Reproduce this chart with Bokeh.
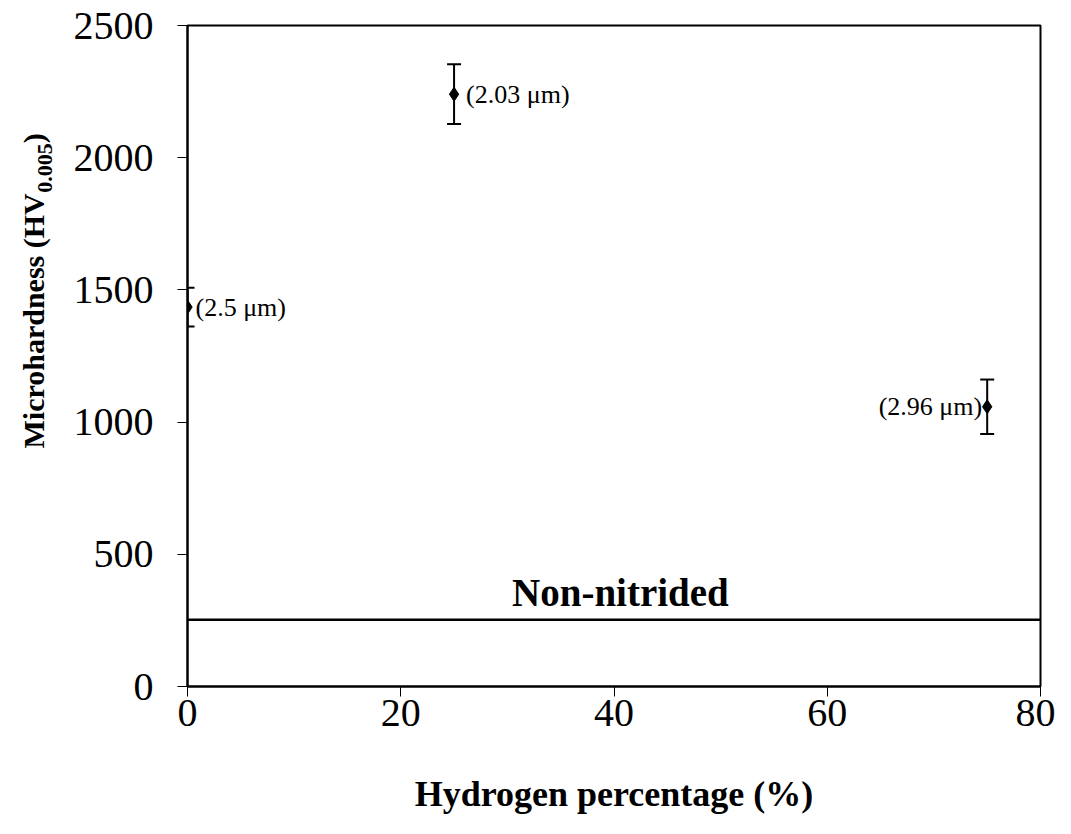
import math
from bokeh.plotting import figure
from bokeh.layouts import row
from bokeh.models import ColumnDataSource, Whisker, TeeHead, Span, Label, Range1d
from bokeh.core.properties import value
from bokeh.embed import file_html
from bokeh.resources import INLINE

# ---- data ----
hydrogen = [0, 25, 75]
hardness = [1435, 2240, 1058]
errors = [73, 113, 103]
thickness_labels = ["(2.5 μm)", "(2.03 μm)", "(2.96 μm)"]
label_align = ["left", "left", "right"]
label_offset = [8, 12, -5]
non_nitrided = 252
x_ticks = [0, 20, 40, 60, 80]
y_ticks = [0, 500, 1000, 1500, 2000, 2500]

FONT = "Liberation Serif"
H = 818
LW = 70            # width of the y-title strip
W = 1055 - LW
BOTTOM = 132
TOP = 25

src = ColumnDataSource(dict(
    x=hydrogen, y=hardness,
    upper=[h + e for h, e in zip(hardness, errors)],
    lower=[h - e for h, e in zip(hardness, errors)],
    txt=thickness_labels, align=label_align, xo=label_offset,
))

p = figure(width=W, height=H, output_backend="svg", toolbar_location=None,
           x_range=Range1d(0, 80), y_range=Range1d(0, 2500),
           min_border_left=186 - LW, min_border_right=15, min_border_top=TOP, min_border_bottom=BOTTOM)
p.background_fill_color = "white"
p.border_fill_color = "white"
p.outline_line_color = "black"
p.outline_line_width = 2
p.xgrid.visible = False
p.ygrid.visible = False

for ax in (p.xaxis[0], p.yaxis[0]):
    ax.axis_line_width = 2
    ax.axis_line_color = "black"
    ax.major_tick_out = 10
    ax.major_tick_in = 0
    ax.major_tick_line_width = 1
    ax.major_tick_line_color = "black"
    ax.minor_tick_line_color = None
    ax.major_label_text_font = FONT
    ax.major_label_text_font_size = "40px"
    ax.major_label_text_color = "black"

p.xaxis.ticker = x_ticks
p.yaxis.ticker = y_ticks
p.xaxis.major_label_standoff = 3
p.yaxis.major_label_standoff = 24

p.xaxis.axis_label = "Hydrogen percentage (%)"
p.xaxis.axis_label_text_font = FONT
p.xaxis.axis_label_text_font_style = "bold"
p.xaxis.axis_label_text_font_size = "36px"
p.xaxis.axis_label_text_color = "black"
p.xaxis.axis_label_standoff = 45

# non-nitrided reference line
p.add_layout(Span(location=non_nitrided, dimension="width", line_color="black", line_width=2.5))
p.text(x=[40.6], y=[non_nitrided], text=["Non-nitrided"], text_font=value(FONT),
       text_font_style="bold", text_font_size="39px", text_align="center",
       text_baseline="bottom", y_offset=-6, text_color="black")

# error bars
wh = Whisker(base="x", upper="upper", lower="lower", source=src, line_width=2, line_color="black",
             upper_head=TeeHead(size=14, line_width=2, line_color="black"),
             lower_head=TeeHead(size=14, line_width=2, line_color="black"))
p.add_layout(wh)

p.scatter("x", "y", source=src, marker="diamond", size=14, fill_color="black", line_color="black")

p.text(x="x", y="y", text="txt", source=src, text_font=value(FONT), text_font_size="26px",
       text_align="align", text_baseline="middle", x_offset="xo", text_color="black")

# ---- y-axis title strip (with subscript) ----
t = figure(width=LW, height=H, output_backend="svg", toolbar_location=None,
           x_axis_type=None, y_axis_type=None, min_border=0,
           x_range=Range1d(0, 1), y_range=Range1d(0, 1))
t.outline_line_color = None
t.xgrid.visible = False
t.ygrid.visible = False
t.background_fill_color = "white"
t.border_fill_color = "white"

main_size = 30
sub_size = 22
base_x = 33
start_y = (H - BOTTOM - 8) - 448 + 8   # frame-relative, measured upward
main_w = 8.527 * main_size
sub_w = 2.25 * sub_size
common = dict(x_units="screen", y_units="screen", angle=math.pi / 2, text_font=FONT,
              text_font_style="bold", text_align="left", text_baseline="alphabetic",
              text_color="black")
t.add_layout(Label(x=base_x, y=start_y, text="Microhardness (HV",
                   text_font_size=f"{main_size}px", **common))
t.add_layout(Label(x=base_x + 11, y=start_y + main_w, text="0.005",
                   text_font_size=f"{sub_size}px", **common))
t.add_layout(Label(x=base_x, y=start_y + main_w + sub_w, text=")",
                   text_font_size=f"{main_size}px", **common))

layout = row(t, p, spacing=0)
open("out.html", "w").write(file_html(layout, INLINE))
